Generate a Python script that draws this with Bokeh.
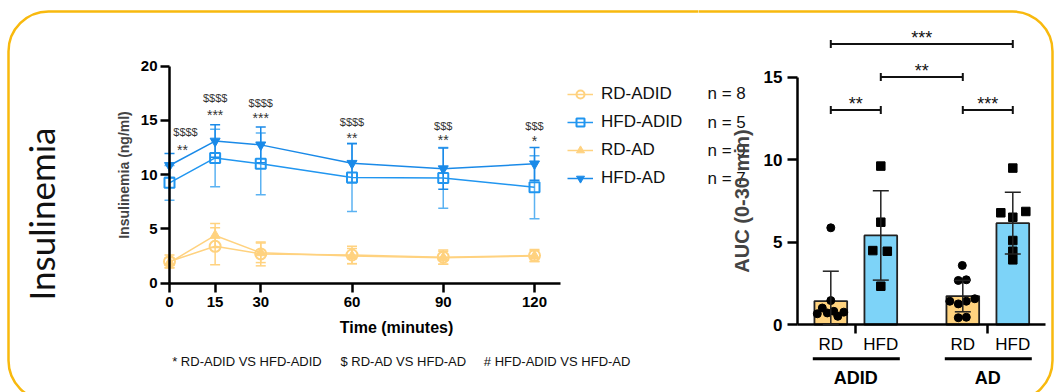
import math
from bokeh.plotting import figure
from bokeh.models import (Range1d, FixedTicker, LinearAxis, Whisker, TeeHead, ColumnDataSource,
                          Legend, LegendItem, BoxAnnotation)
from bokeh.layouts import row
from bokeh.core.properties import value
from bokeh.embed import file_html
from bokeh.resources import INLINE

# ---------------- data: insulinemia time course (mean, SD) ----------------
time_min = [0, 15, 30, 60, 90, 120]
rd_adid_mean = [2.0, 3.4, 2.7, 2.6, 2.4, 2.55]
rd_adid_sd = [0.6, 1.7, 1.1, 0.8, 0.65, 0.55]
hfd_adid_mean = [9.25, 11.55, 11.0, 9.75, 9.7, 8.85]
hfd_adid_sd = [1.6, 2.65, 2.85, 3.15, 2.8, 2.9]
rd_ad_mean = [1.9, 4.4, 2.8, 2.5, 2.35, 2.5]
rd_ad_sd = [0.45, 1.1, 0.9, 0.7, 0.6, 0.5]
hfd_ad_mean = [10.85, 13.1, 12.75, 11.05, 10.55, 11.0]
hfd_ad_sd = [1.1, 1.5, 1.65, 1.8, 1.9, 1.5]
series_names = ["RD-ADID", "HFD-ADID", "RD-AD", "HFD-AD"]
series_n = [8, 5, 9, 7]
dollar_labels = ["$$$$", "$$$$", "$$$$", "$$$$", "$$$", "$$$"]
dollar_y = [13.9, 17.1, 16.6, 14.9, 14.5, 14.5]
star_labels = ["**", "***", "***", "**", "**", "*"]
star_y = [12.5, 15.7, 15.4, 13.6, 13.4, 13.3]
x_ticks = [0, 15, 30, 60, 90, 120]
y_ticks = [0, 5, 10, 15, 20]
footnotes = ["* RD-ADID VS HFD-ADID", "$ RD-AD VS HFD-AD", "# HFD-ADID VS HFD-AD"]

# ---------------- data: AUC (0-30 min) ----------------
auc_groups = ["ADID", "AD"]
auc_diets = ["RD", "HFD"]
auc_mean = [1.42, 5.40, 1.72, 6.14]
auc_sd = [1.81, 2.71, 0.95, 1.87]
auc_points = [
    [5.86, 1.45, 1.0, 0.65, 0.7, 0.8, 0.5, 0.75],
    [9.6, 6.2, 4.48, 4.44, 2.32],
    [3.58, 2.67, 2.71, 1.41, 1.25, 1.41, 1.56, 0.41, 0.44],
    [9.48, 6.77, 6.85, 6.5, 5.09, 4.44, 3.92],
]
auc_points_dx = [
    [0, 0, -0.17, -0.27, -0.07, 0.06, 0.14, 0.26],
    [0, 0, -0.16, 0.13, 0],
    [-0.01, -0.09, 0.07, -0.26, -0.09, 0.07, 0.24, -0.09, 0.07],
    [0, -0.24, 0.26, 0, 0, 0, 0],
]
comparisons = [(0, 1, 13.0, "**"), (2, 3, 13.0, "***"), (1, 2, 15.0, "**"), (0, 3, 17.0, "***")]
auc_y_ticks = [0, 5, 10, 15]

# ---------------- layout constants (page pixels) ----------------
H = 392
W1 = 698
W2 = 1059 - W1
L_X0, L_PXX = 169.0, 3.0417      # time 0 at x px, px per minute
L_Y0, L_PXY = 282.7, 10.85       # insulin 0 at y px, px per ng/ml
R_X0, R_PXX = 830.3 - W1, 50.0   # first bar at local x px
R_Y0, R_PXY = 324.0, 16.5

def lx(px):
    return (px - L_X0) / L_PXX

def ly(py):
    return (L_Y0 - py) / L_PXY

def rx(px):
    return (px - W1 - R_X0) / R_PXX

def ry(py):
    return (R_Y0 - py) / R_PXY

FONT = value("Liberation Sans")
YELLOW = "#FFD27F"
BLUE1 = "#2196F0"
BLUE1_ERR = "#5BB2F2"
BLUE2 = "#1A8AE8"
FRAME_COLOR = "#F8B90E"

# ================= left figure: time course =================
p1 = figure(width=W1, height=H, output_backend="svg", toolbar_location=None,
            x_range=Range1d(lx(0), lx(W1)), y_range=Range1d(ly(H), ly(0)),
            x_axis_location=None, y_axis_location=None, min_border=0,
            outline_line_color=None, border_fill_color="white")
p1.title.visible = False
p1.grid.visible = False

def style_axis(ax, size):
    ax.axis_line_width = 2.5
    ax.axis_line_color = "black"
    ax.major_tick_line_width = 2.5
    ax.major_tick_in = 0
    ax.minor_tick_out = 0
    ax.minor_tick_in = 0
    ax.major_label_text_font = "Liberation Sans"
    ax.major_label_text_font_style = "bold"
    ax.major_label_text_font_size = size
    ax.major_label_text_color = "black"

xa = LinearAxis(ticker=FixedTicker(ticks=x_ticks), fixed_location=0, bounds=(0, lx(560)))
style_axis(xa, "15px")
xa.major_tick_out = 9
xa.major_label_standoff = 5
p1.add_layout(xa, "below")

ya = LinearAxis(ticker=FixedTicker(ticks=y_ticks), fixed_location=0, bounds=(0, 20),
                axis_label="Insulinemia (ng/ml)")
style_axis(ya, "15px")
ya.major_tick_out = 9
ya.major_label_standoff = 3
ya.axis_label_text_font = "Liberation Sans"
ya.axis_label_text_font_style = "bold"
ya.axis_label_text_font_size = "14px"
ya.axis_label_standoff = 6
p1.add_layout(ya, "left")

series = [
    (rd_adid_mean, rd_adid_sd, "circle", YELLOW, YELLOW, None, 11),
    (hfd_adid_mean, hfd_adid_sd, "square", BLUE1, BLUE1_ERR, None, 10),
    (rd_ad_mean, rd_ad_sd, "triangle", YELLOW, YELLOW, YELLOW, 10),
    (hfd_ad_mean, hfd_ad_sd, "inverted_triangle", BLUE2, BLUE2, BLUE2, 10),
]
legend_items = []
for name, (mean, sd, marker, col, ecol, fill, size) in zip(series_names, series):
    src = ColumnDataSource(dict(t=time_min, m=mean,
                                lo=[m - s for m, s in zip(mean, sd)],
                                hi=[m + s for m, s in zip(mean, sd)]))
    w = Whisker(source=src, base="t", upper="hi", lower="lo", line_color=ecol, line_width=1.5,
                upper_head=TeeHead(size=10, line_color=ecol, line_width=1.5),
                lower_head=TeeHead(size=10, line_color=ecol, line_width=1.5))
    p1.add_layout(w)
    lr = p1.line("t", "m", source=src, line_color=col, line_width=1.5)
    if fill is None:
        sr = p1.scatter("t", "m", source=src, marker=marker, size=size, line_color=col,
                        line_width=2, fill_color=None)
    else:
        sr = p1.scatter("t", "m", source=src, marker=marker, size=size, line_color=col,
                        line_width=1, fill_color=fill)
    legend_items.append(LegendItem(label=name, renderers=[lr, sr]))

legend = Legend(items=legend_items, location=(567, 204), border_line_color=None,
                background_fill_alpha=0, padding=0, margin=0, spacing=7,
                label_height=21, glyph_height=20, glyph_width=26, label_standoff=8,
                label_text_font="Liberation Sans", label_text_font_size="17px",
                label_text_color="#111111")
p1.add_layout(legend)

# significance marks above time points
p1.text(x=[t + (lx(185) if t == 0 else 0) for t in time_min], y=dollar_y, text=dollar_labels,
        text_font=FONT, text_font_size="11px", text_color="#333333",
        text_align="center", text_baseline="middle")
p1.text(x=[t + (lx(182) if t == 0 else 0) for t in time_min], y=star_y, text=star_labels,
        text_font=FONT, text_font_size="14px", text_color="#333333",
        text_align="center", text_baseline="middle", y_offset=2)

p1.text(x=[lx(40)], y=[ly(213.5)], text=["Insulinemia"], angle=math.pi / 2,
        text_font=value("Lato"), text_font_size="35px", text_color="#111111",
        text_align="center", text_baseline="middle")
p1.text(x=[lx(396)], y=[ly(327)], text=["Time (minutes)"], text_font=FONT,
        text_font_style="bold", text_font_size="16px", text_color="black",
        text_align="center", text_baseline="middle")
p1.text(x=[lx(171.7), lx(340), lx(483.3)], y=[ly(360.7)] * 3, text=footnotes,
        text_font=FONT, text_font_size="13px", text_color="#111111",
        text_align="left", text_baseline="middle")

# rounded panel frame: left half (rounded left corners only)
p1.add_layout(BoxAnnotation(left=lx(8), right=lx(W1 + 6), top=ly(11), bottom=ly(400),
                            fill_alpha=0, line_color=FRAME_COLOR, line_alpha=1, line_width=2.5,
                            border_radius=(40, 0, 0, 40), level="overlay"))

# ================= right figure: AUC =================
bar_x = [g * 2.64 + d for g in range(len(auc_groups)) for d in range(len(auc_diets))]
bar_diet = [d for g in auc_groups for d in auc_diets]
bar_colors = ["#FFD37F" if d == "RD" else "#7DD3F8" for d in bar_diet]
group_x = [(bar_x[2 * g] + bar_x[2 * g + 1]) / 2 for g in range(len(auc_groups))]

p2 = figure(width=W2, height=H, output_backend="svg", toolbar_location=None,
            x_range=Range1d(rx(W1), rx(1059)), y_range=Range1d(ry(H), ry(0)),
            x_axis_location=None, y_axis_location=None, min_border=0,
            outline_line_color=None, border_fill_color="white")
p2.title.visible = False
p2.grid.visible = False

y_axis_x = rx(797)
ra = LinearAxis(ticker=FixedTicker(ticks=auc_y_ticks), fixed_location=y_axis_x, bounds=(0, 15),
                axis_label="AUC (0-30 min)")
style_axis(ra, "17px")
ra.major_tick_out = 10
ra.major_label_standoff = 5
ra.axis_label_text_font = "Liberation Sans"
ra.axis_label_text_font_style = "bold"
ra.axis_label_text_font_size = "20px"
ra.axis_label_standoff = 8
p2.add_layout(ra, "left")

# x axis: line at 0, separator ticks between diets (minor ticks), diet labels at bar centres
lab_axis = LinearAxis(ticker=FixedTicker(ticks=bar_x, minor_ticks=group_x), fixed_location=0,
                      bounds=(y_axis_x, rx(1045)),
                      major_label_overrides={x: d for x, d in zip(bar_x, bar_diet)})
lab_axis.axis_line_width = 2.5
lab_axis.axis_line_color = "black"
lab_axis.major_tick_line_color = None
lab_axis.major_tick_out = 0
lab_axis.major_tick_in = 0
lab_axis.minor_tick_line_color = "black"
lab_axis.minor_tick_line_width = 2.5
lab_axis.minor_tick_out = 9
lab_axis.minor_tick_in = 0
lab_axis.major_label_text_font = "Liberation Sans"
lab_axis.major_label_text_font_size = "17px"
lab_axis.major_label_text_color = "black"
lab_axis.major_label_standoff = 1
p2.add_layout(lab_axis, "below")

p2.vbar(x=bar_x, top=auc_mean, width=0.654, bottom=0, fill_color=bar_colors,
        line_color="#222222", line_width=1.8)
esrc = ColumnDataSource(dict(x=bar_x, hi=[m + s for m, s in zip(auc_mean, auc_sd)],
                             lo=[max(m - s, 0) for m, s in zip(auc_mean, auc_sd)]))
p2.add_layout(Whisker(source=esrc, base="x", upper="hi", lower="lo", line_color="#222222",
                      line_width=1.5, level="annotation",
                      upper_head=TeeHead(size=16, line_color="#222222", line_width=1.5),
                      lower_head=TeeHead(size=16, line_color="#222222", line_width=1.5)))
for i, (pts, dxs) in enumerate(zip(auc_points, auc_points_dx)):
    marker = "circle" if bar_diet[i] == "RD" else "square"
    p2.scatter(x=[bar_x[i] + d for d in dxs], y=pts, marker=marker,
               size=8 if marker == "circle" else 8.5, color="black")

# group underlines and labels
p2.segment(x0=[bar_x[2 * g] - 0.36 for g in range(len(auc_groups))],
           x1=[bar_x[2 * g + 1] + 0.38 for g in range(len(auc_groups))],
           y0=[ry(358.3)] * 2, y1=[ry(358.3)] * 2, line_color="black", line_width=3)
p2.text(x=group_x, y=[ry(377)] * 2, text=auc_groups, text_font=FONT, text_font_style="bold",
        text_font_size="18px", text_color="black", text_align="center", text_baseline="middle")

# significance brackets
tick_h = 4 / R_PXY
bx0 = [bar_x[i] for i, j, lv, s in comparisons]
bx1 = [bar_x[j] for i, j, lv, s in comparisons]
blv = [lv for i, j, lv, s in comparisons]
p2.segment(x0=bx0, x1=bx1, y0=blv, y1=blv, line_color="#111111", line_width=2)
p2.segment(x0=bx0 + bx1, x1=bx0 + bx1, y0=[v - tick_h for v in blv] * 2,
           y1=[v + tick_h for v in blv] * 2, line_color="#111111", line_width=2)
p2.text(x=[(a + b) / 2 for a, b in zip(bx0, bx1)], y=blv, text=[s for i, j, lv, s in comparisons],
        text_font=FONT, text_font_size="18px", text_color="#111111",
        text_align="center", text_baseline="middle", y_offset=-6)

# group sizes (next to legend)
row_py = [93.3 + 28.3 * k for k in range(len(series_n))]
p2.text(x=[rx(707)] * len(series_n), y=[ry(py) for py in row_py],
        text=[f"n = {n}" for n in series_n], text_font=FONT, text_font_size="17px",
        text_color="#111111", text_align="left", text_baseline="middle")

# rounded panel frame: right half (rounded right corners only)
p2.add_layout(BoxAnnotation(left=rx(W1 - 6), right=rx(1052), top=ry(11), bottom=ry(400),
                            fill_alpha=0, line_color=FRAME_COLOR, line_alpha=1, line_width=2.5,
                            border_radius=(0, 40, 40, 0), level="overlay"))

layout = row(p1, p2)
open("out.html", "w").write(file_html(layout, INLINE))
